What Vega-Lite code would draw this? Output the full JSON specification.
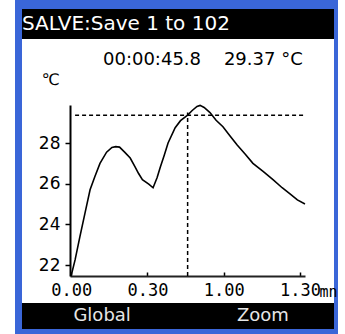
{
  "$schema": "https://vega.github.io/schema/vega-lite/v6.json",
  "background": "#3a66d8",
  "padding": 0,
  "config": {"view": {"stroke": null}},
  "datasets": {
    "curve": [
      {"t": 0, "temp": 21.5}, {"t": 1.5, "temp": 22.25}, {"t": 3.4, "temp": 23.4}, {"t": 5.4, "temp": 24.55},
      {"t": 7.4, "temp": 25.7}, {"t": 9.3, "temp": 26.35}, {"t": 11.3, "temp": 27.0}, {"t": 13.9, "temp": 27.55},
      {"t": 16.0, "temp": 27.78}, {"t": 17.5, "temp": 27.82}, {"t": 19.0, "temp": 27.8}, {"t": 21.0, "temp": 27.55},
      {"t": 23.2, "temp": 27.26}, {"t": 25.0, "temp": 26.85}, {"t": 26.5, "temp": 26.5}, {"t": 28.0, "temp": 26.2},
      {"t": 30.5, "temp": 25.98}, {"t": 32.2, "temp": 25.8}, {"t": 33.8, "temp": 26.3}, {"t": 35.0, "temp": 26.8},
      {"t": 36.6, "temp": 27.4}, {"t": 38.1, "temp": 28.0}, {"t": 40.9, "temp": 28.75}, {"t": 43.0, "temp": 29.1},
      {"t": 45.8, "temp": 29.37}, {"t": 47.6, "temp": 29.6}, {"t": 49.5, "temp": 29.8}, {"t": 50.7, "temp": 29.85},
      {"t": 52.3, "temp": 29.75}, {"t": 54.6, "temp": 29.5}, {"t": 57.0, "temp": 29.12}, {"t": 59.7, "temp": 28.8},
      {"t": 62.5, "temp": 28.35}, {"t": 65.3, "temp": 27.9}, {"t": 68.5, "temp": 27.45}, {"t": 71.5, "temp": 27.0},
      {"t": 75.5, "temp": 26.6}, {"t": 79.4, "temp": 26.2}, {"t": 83.0, "temp": 25.8}, {"t": 86.1, "temp": 25.5},
      {"t": 89.0, "temp": 25.2}, {"t": 92.0, "temp": 25.0}
    ],
    "cursor": [{"t": 45.8, "temp": 29.37}],
    "header": [{"label": "SALVE:Save 1 to 102", "pos": 0}],
    "buttons": [{"btn": "Global"}, {"btn": "Zoom"}]
  },
  "spacing": 0,
  "bounds": "flush",
  "hconcat": [
    {"width": 15, "height": 334, "view": {"fill": "white"}, "data": {"values": []}, "mark": "rect", "encoding": {}},
    {"width": 7, "height": 334, "data": {"values": []}, "mark": "rect", "encoding": {}},
    {
      "spacing": 0,
      "bounds": "flush",
      "vconcat": [
        {"width": 312, "height": 9, "data": {"values": []}, "mark": "rect", "encoding": {}},
        {
          "width": 312, "height": 30,
          "view": {"fill": "black"},
          "data": {"name": "header"},
          "mark": {"type": "text", "align": "left", "baseline": "middle", "font": "DejaVu Sans", "fontSize": 20, "color": "white"},
          "encoding": {
            "x": {"field": "pos", "type": "quantitative", "scale": {"domain": [0, 1]}, "axis": null},
            "text": {"field": "label"}
          }
        },
        {
          "width": 312, "height": 264,
          "view": {"fill": "white"},
          "title": {
            "text": "00:00:45.8\u00a0\u00a0\u00a0\u00a029.37 °C",
            "frame": "group", "anchor": "start", "orient": "top",
            "offset": 0, "dx": 81, "dy": 44, "baseline": "alphabetic",
            "font": "DejaVu Sans", "fontSize": 18, "fontWeight": "normal", "color": "black"
          },
          "layer": [
            {
              "data": {"name": "cursor"},
              "mark": {"type": "rule", "color": "black", "strokeWidth": 1.5, "strokeDash": [4, 3]},
              "encoding": {
                "y": {"field": "temp", "type": "quantitative"},
                "x": {"datum": 1.5, "type": "quantitative"},
                "x2": {"datum": 91.8}
              }
            },
            {
              "data": {"name": "cursor"},
              "mark": {"type": "rule", "color": "black", "strokeWidth": 1.5, "strokeDash": [4, 3]},
              "encoding": {
                "x": {"field": "t", "type": "quantitative"},
                "y": {"datum": 21.46, "type": "quantitative"},
                "y2": {"datum": 29.5}
              }
            },
            {
              "data": {"name": "curve"},
              "mark": {"type": "line", "color": "black", "strokeWidth": 1.6},
              "encoding": {
                "x": {
                  "field": "t", "type": "quantitative",
                  "scale": {"domain": [-0.5, 92], "range": [48, 283], "nice": false, "zero": false},
                  "axis": {
                    "orient": "bottom", "offset": -27, "values": [0, 30, 60, 90],
                    "labelExpr": "floor(datum.value/60) + '.' + (datum.value % 60 < 10 ? '0' : '') + (datum.value % 60)",
                    "grid": false, "tickSize": -4, "tickColor": "black", "tickWidth": 1.5,
                    "domainColor": "#222222", "domainWidth": 2,
                    "labelFont": "DejaVu Sans Mono", "labelFontSize": 17, "labelColor": "black", "labelPadding": 10,
                    "title": "mn", "titleFont": "DejaVu Sans Mono", "titleFontSize": 15, "titleFontWeight": "normal",
                    "titleColor": "black", "titleX": 297, "titleY": 20, "titleAlign": "left", "titleBaseline": "alphabetic"
                  }
                },
                "y": {
                  "field": "temp", "type": "quantitative",
                  "scale": {"domain": [21.46, 29.87], "range": [237, 66], "nice": false, "zero": false},
                  "axis": {
                    "orient": "left", "offset": -48, "values": [22, 23, 24, 25, 26, 27, 28, 29],
                    "labelExpr": "datum.value % 2 == 0 ? datum.label : ''",
                    "grid": false, "tickSize": 5, "tickColor": "black", "tickWidth": 1.5,
                    "domainColor": "black", "domainWidth": 2,
                    "labelFont": "DejaVu Sans", "labelFontSize": 17, "labelColor": "black", "labelPadding": 5,
                    "title": "℃", "titleFont": "DejaVu Sans", "titleFontSize": 16, "titleFontWeight": "normal",
                    "titleColor": "black", "titleAngle": 0, "titleX": -20, "titleY": 40,
                    "titleAlign": "center", "titleBaseline": "middle"
                  }
                }
              }
            }
          ]
        },
        {
          "width": 312, "height": 26,
          "view": {"fill": "black"},
          "data": {"name": "buttons"},
          "mark": {"type": "text", "align": "center", "baseline": "middle", "font": "DejaVu Sans", "fontSize": 18, "color": "#e6e6e6"},
          "encoding": {
            "x": {"field": "btn", "type": "nominal", "scale": {"type": "point", "padding": 0.47, "align": 0.53}, "axis": null},
            "text": {"field": "btn"}
          }
        },
        {"width": 312, "height": 5, "data": {"values": []}, "mark": "rect", "encoding": {}}
      ]
    },
    {"width": 11, "height": 334, "data": {"values": []}, "mark": "rect", "encoding": {}}
  ]
}
